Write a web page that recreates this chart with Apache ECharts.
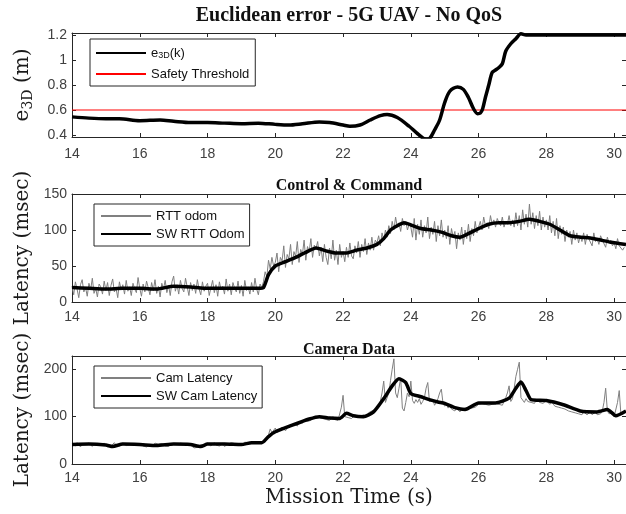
<!DOCTYPE html>
<html>
<head>
<meta charset="utf-8">
<script src="https://cdn.jsdelivr.net/npm/echarts@6/dist/echarts.min.js"></script>
<style>
html,body{margin:0;padding:0;background:#fff;}
#chart{width:626px;height:514px;}
</style>
</head>
<body>
<div id="chart"></div>
<script>
// ---------- DATA ----------
const xTicks = [14, 16, 18, 20, 22, 24, 26, 28, 30];
const e3dTicks = [0.4, 0.6, 0.8, 1.0, 1.2];
const rttTicks = [0, 50, 100, 150];
const camTicks = [0, 100, 200];

const safetyThreshold = 0.6;

const e3dTime = [14.0,14.5,15.0,15.4,16.0,16.6,17.0,17.5,18.0,18.5,19.0,19.5,20.0,20.4,20.8,21.3,21.6,22.0,22.2,22.5,22.8,23.1,23.3,23.6,23.95,24.2,24.45,24.55,24.7,24.85,25.0,25.15,25.38,25.55,25.7,25.85,25.97,26.05,26.12,26.2,26.3,26.4,26.5,26.6,26.7,26.8,26.95,27.1,27.25,27.4,28.0,29.0,30.35];
const e3dVal = [0.545,0.535,0.53,0.53,0.515,0.52,0.51,0.50,0.50,0.495,0.49,0.495,0.485,0.48,0.49,0.505,0.50,0.48,0.47,0.48,0.52,0.555,0.565,0.54,0.47,0.41,0.365,0.37,0.44,0.52,0.66,0.75,0.785,0.765,0.70,0.61,0.57,0.575,0.61,0.70,0.80,0.90,0.92,0.94,0.97,1.07,1.13,1.17,1.21,1.20,1.20,1.20,1.20];

// raw samples, one every 0.05 s starting at 14.0 s (one row = one second)
const rawStart = 14.0;
const rawStep = 0.05;
const rttRaw = [
  22,10,28,18,6,24,31,14,20,8,26,17,33,12,19,7,25,21,11,29,
  16,27,9,23,32,14,19,6,28,17,24,11,30,15,21,9,26,18,13,34,
  19,8,25,14,29,20,10,27,16,31,12,22,7,26,18,30,13,23,9,28,
  36,15,24,11,30,19,14,33,21,9,27,16,25,12,31,18,10,28,15,22,
  26,9,20,30,13,24,8,28,17,22,11,32,15,25,10,27,19,14,29,12,
  23,8,30,16,21,11,27,14,33,18,10,25,20,28,42,35,58,46,62,50,
  55,68,42,62,57,78,48,66,60,80,52,70,63,84,55,73,66,86,58,77,
  70,88,62,79,74,84,64,76,56,80,62,52,75,60,86,58,72,52,80,62,
  70,56,76,62,82,64,60,78,68,84,62,80,70,88,66,82,72,90,72,86,
  82,92,78,96,86,100,90,106,95,112,100,118,104,110,98,116,106,112,100,108,
  104,90,116,86,108,94,114,90,106,96,118,88,104,94,112,84,106,92,114,90,
  100,88,106,80,102,90,98,74,96,86,104,80,100,88,108,84,102,92,112,96,
  104,112,100,118,106,110,102,120,108,114,104,116,110,106,118,104,112,108,120,106,
  114,104,124,106,120,100,128,108,122,104,136,108,124,102,120,106,126,100,118,104,
  114,100,120,96,112,92,116,88,106,94,104,84,100,90,98,80,100,86,96,82,
  92,84,96,80,94,88,90,78,96,84,88,80,92,86,84,76,90,82,86,78,
  82,74,88,78,80,72,76
];
const swRttTime = [14,14.5,15,15.5,16,16.5,17,17.5,18,18.5,19,19.5,19.65,19.8,20,20.3,20.6,20.9,21.2,21.5,21.8,22.1,22.4,22.7,23,23.2,23.4,23.6,23.8,24.0,24.3,24.6,24.9,25.2,25.45,25.7,26.0,26.3,26.6,26.9,27.2,27.5,27.8,28.1,28.4,28.7,29.0,29.3,29.6,29.9,30.35];
const swRttVal = [20,19,18,19,19,18,22,21,19,19,19,19,20,38,50,56,62,69,75,71,68,68,72,75,80,88,100,106,110,107,102,100,97,92,90,95,102,108,110,110,112,115,112,108,100,92,90,89,86,83,80];

const camRaw = [
  44,40,38,45,42,36,43,46,41,38,44,40,37,42,45,39,43,41,38,44,
  40,36,34,38,42,45,40,43,38,41,44,42,39,36,41,44,40,37,42,39,
  43,40,38,41,36,39,42,37,40,44,46,42,39,43,40,38,41,37,43,40,
  42,45,41,38,44,40,43,39,42,38,40,36,34,37,35,38,41,43,40,44,
  44,41,38,42,45,40,43,38,41,44,37,40,42,39,45,41,43,39,42,44,
  40,43,46,42,45,48,44,41,46,43,47,44,45,48,46,50,62,74,66,70,
  76,66,72,70,78,74,70,76,82,78,80,86,82,80,88,84,86,92,88,90,
  94,92,98,96,100,104,98,102,96,100,94,98,92,96,100,94,98,92,96,120,
  145,100,104,98,102,96,100,104,98,102,100,96,104,106,100,108,104,112,108,114,
  116,120,132,150,175,130,126,150,176,200,222,150,140,160,182,118,112,130,150,142,
  175,134,128,136,130,138,126,132,140,160,172,132,128,136,124,130,138,150,158,128,
  122,128,118,124,116,120,112,118,114,110,116,112,118,114,120,116,118,122,120,124,
  126,122,128,124,126,130,124,128,126,122,128,132,126,130,124,128,140,150,165,132,
  138,160,185,200,215,140,136,130,138,132,136,130,134,128,136,132,130,134,128,132,
  134,130,126,132,128,122,126,120,124,118,122,116,120,112,116,110,114,108,112,106,
  108,104,110,106,104,108,110,104,106,110,104,108,106,112,130,160,112,106,104,108,
  100,104,130,155,104,110,112
];
const swCamTime = [14,14.5,15,15.2,15.5,16,16.5,17,17.5,17.8,18,18.5,19,19.3,19.6,19.8,20,20.5,21,21.3,21.6,21.9,22.1,22.3,22.6,22.9,23.2,23.45,23.65,23.85,24,24.3,24.6,24.8,25,25.3,25.6,26,26.5,26.9,27.1,27.25,27.4,27.55,28,28.5,29,29.5,29.8,30.05,30.35];
const swCamVal = [41,42,40,37,42,41,39,42,41,37,42,42,41,45,45,58,68,82,95,100,97,96,107,102,100,110,138,165,180,172,149,142,135,131,128,119,115,129,129,139,160,173,155,136,134,125,112,110,115,102,112];

// ---------- AXIS RANGES ----------
const xMin = 14, xMax = 30.35;
const e3dMin = 0.384, e3dMax = 1.216;
const rttMin = 0, rttMax = 150;
const camMin = 0, camMax = 228;

// ---------- BUILD ----------
const zip = (ts, vs) => ts.map((t, i) => [t, vs[i]]);
const rawSeries = vs => vs.map((v, i) => [+(rawStart + i * rawStep).toFixed(2), v]);

const frame = '#262626';
const tickColor = '#404040';
const grids = [
  {left: 72, right: 0, top: 33, height: 104},
  {left: 72, right: 0, top: 194, height: 108},
  {left: 72, right: 0, top: 356, height: 108}
];

function xAxes(gi, margin, withName) {
  const base = {
    type: 'value', gridIndex: gi, min: xMin, max: xMax,
    splitLine: {show: false},
    axisLine: {show: true, onZero: false, lineStyle: {color: frame, width: 1}},
    axisTick: {show: true, inside: true, length: 4, customValues: xTicks, lineStyle: {color: frame}},
  };
  const bottom = Object.assign({}, base, {
    position: 'bottom',
    axisLabel: {show: true, customValues: xTicks, margin: margin, color: tickColor,
      fontFamily: 'Liberation Sans', fontSize: 14}
  });
  if (withName) {
    Object.assign(bottom, {
      name: 'Mission Time (s)', nameLocation: 'middle', nameGap: 24,
      nameTextStyle: {fontFamily: 'DejaVu Serif', fontSize: 20, color: '#1a1a1a'}
    });
  }
  const top = Object.assign({}, base, {position: 'top', axisLabel: {show: false}});
  return [bottom, top];
}
function yAxes(gi, min, max, ticks, name, nameStyle, fmt) {
  const base = {
    type: 'value', gridIndex: gi, min: min, max: max,
    splitLine: {show: false},
    axisLine: {show: true, onZero: false, lineStyle: {color: frame, width: 1}},
    axisTick: {show: true, inside: true, length: 4, customValues: ticks, lineStyle: {color: frame}},
  };
  const left = Object.assign({}, base, {
    position: 'left',
    axisLabel: {show: true, customValues: ticks, margin: 5, color: tickColor,
      fontFamily: 'Liberation Sans', fontSize: 14, formatter: fmt},
    name: name, nameLocation: 'middle', nameGap: 37, nameTextStyle: nameStyle
  });
  const right = Object.assign({}, base, {position: 'right', axisLabel: {show: false}});
  return [left, right];
}

const serifName = {fontFamily: 'DejaVu Serif', fontSize: 20, color: '#1a1a1a'};
const e3dName = {
  fontFamily: 'DejaVu Serif', fontSize: 20, color: '#1a1a1a',
  rich: {
    e: {fontFamily: 'DejaVu Serif', fontSize: 20, color: '#1a1a1a'},
    s: {fontFamily: 'DejaVu Serif', fontSize: 14, color: '#1a1a1a', padding: [10, 0, 0, 0]}
  }
};

const xAxis = [].concat(xAxes(0, 10, false), xAxes(1, 8, false), xAxes(2, 7, true));
const yAxis = [].concat(
  yAxes(0, e3dMin, e3dMax, e3dTicks, '{e|e}{s|3D}{e| (m)}', e3dName, v => String(+(+v).toFixed(1))),
  yAxes(1, rttMin, rttMax, rttTicks, 'Latency (msec)', serifName, v => String(v)),
  yAxes(2, camMin, camMax, camTicks, 'Latency (msec)', serifName, v => String(v))
);

const legendCommon = {
  orient: 'vertical', itemWidth: 50, itemHeight: 16, selectedMode: false,
  borderColor: frame, borderWidth: 1, backgroundColor: '#fff', borderRadius: 0,
  itemStyle: {color: 'transparent', borderWidth: 0},
  textStyle: {fontFamily: 'Liberation Sans', fontSize: 13, color: '#111', lineHeight: 16,
    rich: {
      t: {fontFamily: 'Liberation Sans', fontSize: 13, color: '#111'},
      s: {fontFamily: 'Liberation Sans', fontSize: 9, color: '#111', padding: [6, 0, 0, 0]}
    }
  }
};

const option = {
  animation: false,
  backgroundColor: '#fff',
  title: [
    {text: 'Euclidean error - 5G UAV - No QoS', left: 349, top: 6, textAlign: 'center', padding: 0,
      textStyle: {fontFamily: 'Liberation Serif', fontWeight: 'bold', fontSize: 20, color: '#111'}},
    {text: 'Control & Command', left: 349, top: 178, textAlign: 'center', padding: 0,
      textStyle: {fontFamily: 'Liberation Serif', fontWeight: 'bold', fontSize: 16, color: '#111'}},
    {text: 'Camera Data', left: 349, top: 342, textAlign: 'center', padding: 0,
      textStyle: {fontFamily: 'Liberation Serif', fontWeight: 'bold', fontSize: 16, color: '#111'}}
  ],
  grid: grids,
  xAxis: xAxis,
  yAxis: yAxis,
  legend: [
    Object.assign({}, legendCommon, {left: 90, top: 39, itemGap: 5, padding: [6, 6, 4, 5],
      data: ['e3D', 'Safety Threshold'],
      formatter: n => n === 'e3D' ? '{t|e}{s|3D}{t|(k)}' : n}),
    Object.assign({}, legendCommon, {left: 94, top: 204, itemGap: 2, padding: [4, 5, 4, 6],
      data: ['RTT odom', 'SW RTT Odom']}),
    Object.assign({}, legendCommon, {left: 94, top: 366, itemGap: 2, padding: [4, 5, 4, 6],
      data: ['Cam Latency', 'SW Cam Latency']})
  ],
  series: [
    {name: 'e3D', type: 'line', xAxisIndex: 0, yAxisIndex: 0, data: zip(e3dTime, e3dVal),
      symbol: 'none', smooth: 0.3, lineStyle: {color: '#000', width: 3.5}, itemStyle: {color: '#000'}, z: 3},
    {name: 'Safety Threshold', type: 'line', xAxisIndex: 0, yAxisIndex: 0,
      data: [[xMin, safetyThreshold], [xMax, safetyThreshold]],
      symbol: 'none', lineStyle: {color: '#ff0000', width: 1}, itemStyle: {color: '#ff0000'}, z: 2},
    {name: 'RTT odom', type: 'line', xAxisIndex: 2, yAxisIndex: 2, data: rawSeries(rttRaw),
      symbol: 'none', lineStyle: {color: '#808080', width: 1}, itemStyle: {color: '#808080'}, z: 2},
    {name: 'SW RTT Odom', type: 'line', xAxisIndex: 2, yAxisIndex: 2, data: zip(swRttTime, swRttVal),
      symbol: 'none', smooth: 0.2, lineStyle: {color: '#000', width: 3.5}, itemStyle: {color: '#000'}, z: 3},
    {name: 'Cam Latency', type: 'line', xAxisIndex: 4, yAxisIndex: 4, data: rawSeries(camRaw),
      symbol: 'none', lineStyle: {color: '#808080', width: 1}, itemStyle: {color: '#808080'}, z: 2},
    {name: 'SW Cam Latency', type: 'line', xAxisIndex: 4, yAxisIndex: 4, data: zip(swCamTime, swCamVal),
      symbol: 'none', smooth: 0.2, lineStyle: {color: '#000', width: 3.5}, itemStyle: {color: '#000'}, z: 3}
  ]
};

const chart = echarts.init(document.getElementById('chart'), null, {renderer: 'canvas'});
chart.setOption(option);
</script>
</body>
</html>
